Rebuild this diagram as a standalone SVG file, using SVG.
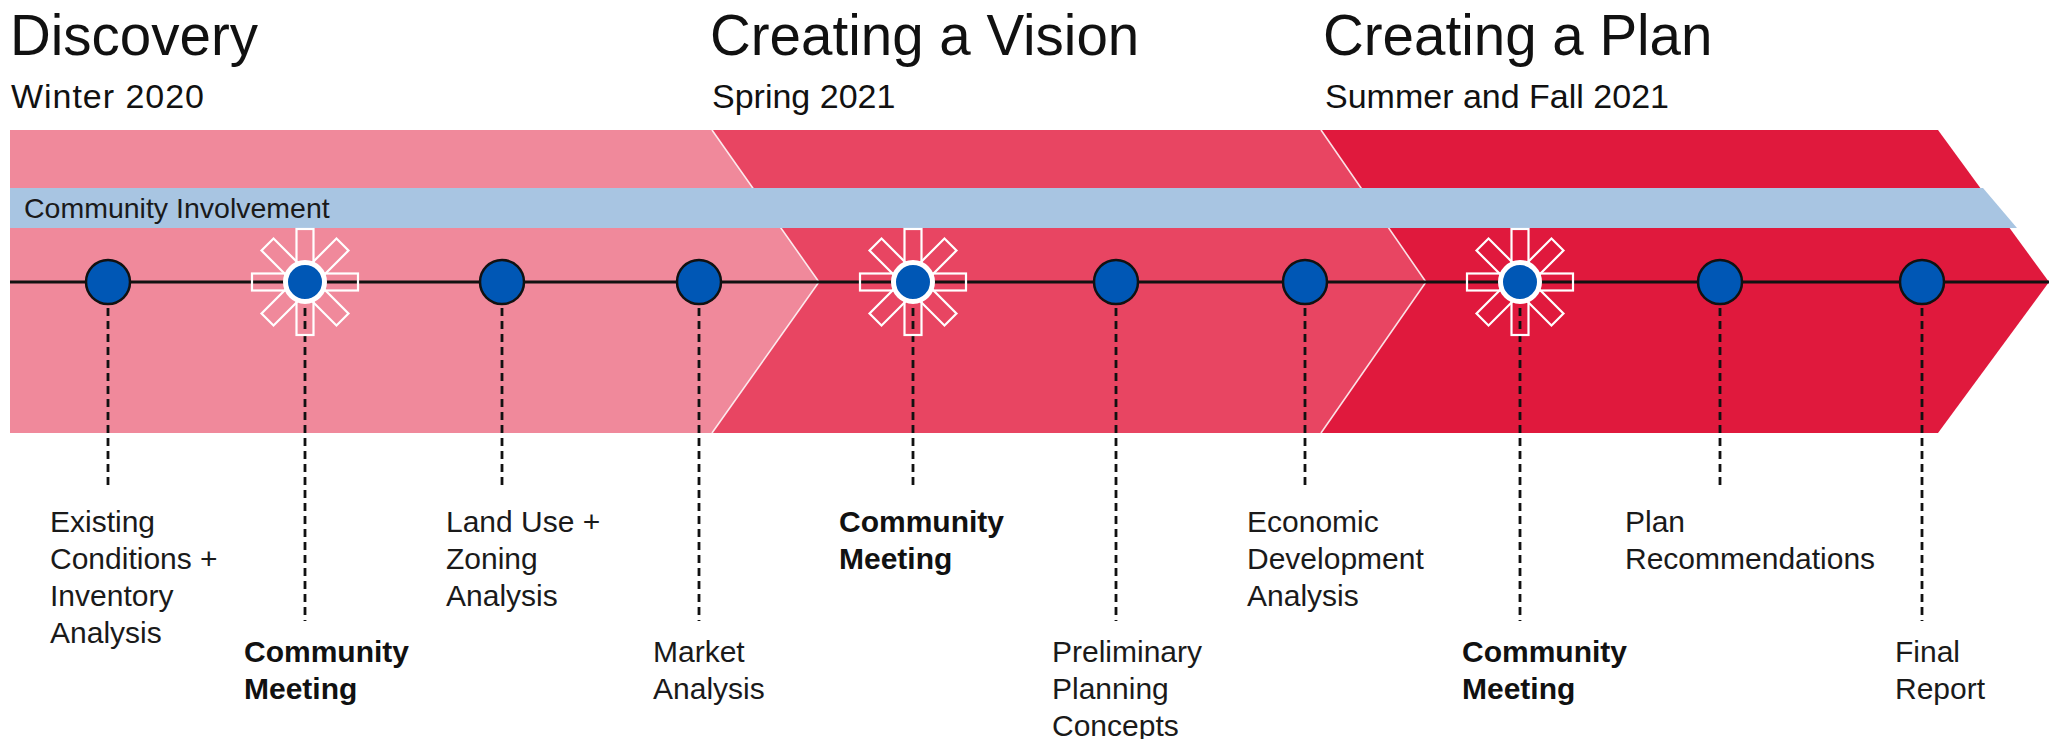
<svg xmlns="http://www.w3.org/2000/svg" width="2049" height="739" viewBox="0 0 2049 739">
<style>
.title{font-family:"Liberation Sans",Arial,sans-serif;font-size:56.5px;fill:#111}
.sub{font-family:"Liberation Sans",Arial,sans-serif;font-size:34px;fill:#111}
.lbl{font-family:"Liberation Sans",Arial,sans-serif;font-size:30px;fill:#1a1a1a}
.bold{font-weight:bold;fill:#111}
.edge{fill:none;stroke:#ffffff;stroke-width:1.6;stroke-opacity:0.85}
.node{fill:#0057B5;stroke:#111;stroke-width:2.5}
.mnode{fill:#0057B5;stroke:#ffffff;stroke-width:5}
.ray{fill:none;stroke:#ffffff;stroke-width:2.2}
.dash{stroke:#111;stroke-width:2.8;stroke-dasharray:8 5;fill:none}
.tl{stroke:#111;stroke-width:3;fill:none}
</style>
<defs>
<g id="sun">
<rect class="ray" x="-8.5" y="-53" width="17" height="106"/>
<rect class="ray" x="-8.5" y="-53" width="17" height="106" transform="rotate(45)"/>
<rect class="ray" x="-8.5" y="-53" width="17" height="106" transform="rotate(90)"/>
<rect class="ray" x="-8.5" y="-53" width="17" height="106" transform="rotate(135)"/>
<circle class="mnode" r="19.5"/>
</g>
</defs>

<g id="phases">
<g id="phase3">
<polygon points="1321,130 1938,130 2049,282 1938,433 1321,433" fill="#E0193D"/>
<text class="title" x="1323" y="55">Creating a Plan</text>
<text class="sub" x="1325" y="108">Summer and Fall 2021</text>
</g>
<g id="phase2">
<polygon points="712,130 1321,130 1426,282 1321,433 712,433" fill="#E84562"/>
<polyline class="edge" points="1321,130 1426,282 1321,433"/>
<text class="title" x="710" y="55">Creating a Vision</text>
<text class="sub" x="712" y="108">Spring 2021</text>
</g>
<g id="phase1">
<polygon points="10,130 712,130 819,282 712,433 10,433" fill="#F0899B"/>
<polyline class="edge" points="712,130 819,282 712,433"/>
<text class="title" x="10" y="55">Discovery</text>
<text class="sub" x="11" y="108" textLength="193" lengthAdjust="spacing">Winter 2020</text>
</g>
</g>

<g id="community-involvement">
<polygon points="10,188 1983,188 2017,228 10,228" fill="#A8C5E2"/>
<text class="lbl" x="24" y="218" style="font-size:28.5px">Community Involvement</text>
</g>

<g id="connectors">
<line class="tl" x1="10" y1="282" x2="2049" y2="282"/>
<line class="dash" x1="108" y1="282" x2="108" y2="487"/>
<line class="dash" x1="305" y1="282" x2="305" y2="621"/>
<line class="dash" x1="502" y1="282" x2="502" y2="487"/>
<line class="dash" x1="699" y1="282" x2="699" y2="621"/>
<line class="dash" x1="913" y1="282" x2="913" y2="487"/>
<line class="dash" x1="1116" y1="282" x2="1116" y2="621"/>
<line class="dash" x1="1305" y1="282" x2="1305" y2="487"/>
<line class="dash" x1="1520" y1="282" x2="1520" y2="621"/>
<line class="dash" x1="1720" y1="282" x2="1720" y2="487"/>
<line class="dash" x1="1922" y1="282" x2="1922" y2="621"/>
</g>

<g id="n1"><circle class="node" cx="108" cy="282" r="22"/>
<text class="lbl" x="50"><tspan x="50" y="532">Existing</tspan><tspan x="50" y="569">Conditions +</tspan><tspan x="50" y="606">Inventory</tspan><tspan x="50" y="643">Analysis</tspan></text></g>
<g id="m1"><use href="#sun" x="305" y="282"/>
<text class="lbl bold"><tspan x="244" y="662">Community</tspan><tspan x="244" y="699">Meeting</tspan></text></g>
<g id="n3"><circle class="node" cx="502" cy="282" r="22"/>
<text class="lbl"><tspan x="446" y="532">Land Use +</tspan><tspan x="446" y="569">Zoning</tspan><tspan x="446" y="606">Analysis</tspan></text></g>
<g id="n4"><circle class="node" cx="699" cy="282" r="22"/>
<text class="lbl"><tspan x="653" y="662">Market</tspan><tspan x="653" y="699">Analysis</tspan></text></g>
<g id="m2"><use href="#sun" x="913" y="282"/>
<text class="lbl bold"><tspan x="839" y="532">Community</tspan><tspan x="839" y="569">Meeting</tspan></text></g>
<g id="n6"><circle class="node" cx="1116" cy="282" r="22"/>
<text class="lbl"><tspan x="1052" y="662">Preliminary</tspan><tspan x="1052" y="699">Planning</tspan><tspan x="1052" y="736">Concepts</tspan></text></g>
<g id="n7"><circle class="node" cx="1305" cy="282" r="22"/>
<text class="lbl"><tspan x="1247" y="532">Economic</tspan><tspan x="1247" y="569">Development</tspan><tspan x="1247" y="606">Analysis</tspan></text></g>
<g id="m3"><use href="#sun" x="1520" y="282"/>
<text class="lbl bold"><tspan x="1462" y="662">Community</tspan><tspan x="1462" y="699">Meeting</tspan></text></g>
<g id="n9"><circle class="node" cx="1720" cy="282" r="22"/>
<text class="lbl"><tspan x="1625" y="532">Plan</tspan><tspan x="1625" y="569">Recommendations</tspan></text></g>
<g id="n10"><circle class="node" cx="1922" cy="282" r="22"/>
<text class="lbl"><tspan x="1895" y="662">Final</tspan><tspan x="1895" y="699">Report</tspan></text></g>
</svg>
